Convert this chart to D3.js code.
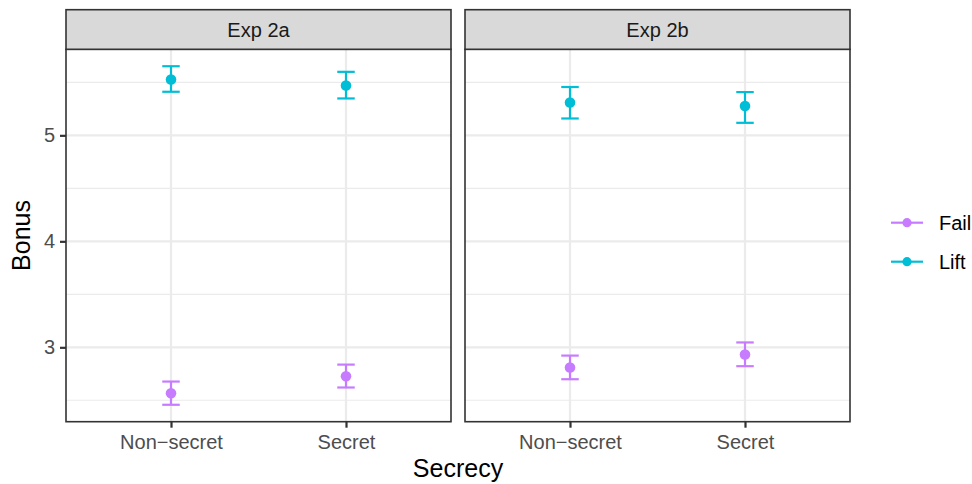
<!DOCTYPE html>
<html>
<head>
  <meta charset="utf-8">
  <title>Bonus by secrecy</title>
  <script src="https://cdn.jsdelivr.net/npm/d3@7"></script>
  <style>
    body { margin: 0; background: #fff; }
    svg text { font-family: "Liberation Sans", Arial, Helvetica, sans-serif; }
  </style>
</head>
<body>
  <svg id="chart" width="972" height="484"></svg>

  <script>
    // facets, x categories, series
    var experiments = ['Exp 2a', 'Exp 2b'];
    var secrecy = ['Non\u2212secret', 'Secret'];
    var outcomes = ['Fail', 'Lift'];
    var colors = ['#C77CFF', '#00BED6'];

    // values per cell: Exp 2a Non-secret, Exp 2a Secret, Exp 2b Non-secret, Exp 2b Secret
    var failMean = [2.567, 2.727, 2.810, 2.932];
    var failLow  = [2.458, 2.621, 2.699, 2.822];
    var failHigh = [2.677, 2.837, 2.922, 3.046];

    var liftMean = [5.527, 5.470, 5.310, 5.276];
    var liftLow  = [5.411, 5.348, 5.159, 5.118];
    var liftHigh = [5.652, 5.599, 5.456, 5.408];

    var yTicks = [3, 4, 5];
    var yMinor = [2.5, 3.5, 4.5, 5.5];

    var series = [
      { name: 'Fail', mean: failMean, low: failLow, high: failHigh },
      { name: 'Lift', mean: liftMean, low: liftLow, high: liftHigh }
    ];

    var svg = d3.select('#chart');

    var panelTop = 49.3, panelBottom = 421.7, stripTop = 9.7,
      panelW = 385, panelX = [66, 465];

    // ggplot style 5% expansion on the data range
    var lo = d3.min(series, s => d3.min(s.low)),
      hi = d3.max(series, s => d3.max(s.high)),
      pad = (hi - lo) * 0.05;

    var y = d3.scaleLinear()
      .domain([lo - pad, hi + pad])
      .range([panelBottom, panelTop]);

    var x = d3.scalePoint()
      .domain(secrecy)
      .range([0, panelW])
      .padding(0.6);

    var color = d3.scaleOrdinal(outcomes, colors);
    var capHalf = x.step() * 0.05;

    experiments.forEach((exp, ei) => {
      var g = svg.append('g')
        .attr('transform', 'translate(' + panelX[ei] + ',0)');

      // minor grid
      g.selectAll('.minor')
        .data(yMinor)
        .enter().append('line')
        .attr('x1', 0).attr('x2', panelW)
        .attr('y1', d => y(d)).attr('y2', d => y(d))
        .attr('stroke', '#EBEBEB').attr('stroke-width', 1.1);

      // major grid
      g.selectAll('.majorY')
        .data(yTicks)
        .enter().append('line')
        .attr('x1', 0).attr('x2', panelW)
        .attr('y1', d => y(d)).attr('y2', d => y(d))
        .attr('stroke', '#EBEBEB').attr('stroke-width', 2.2);

      g.selectAll('.majorX')
        .data(secrecy)
        .enter().append('line')
        .attr('x1', d => x(d)).attr('x2', d => x(d))
        .attr('y1', panelTop).attr('y2', panelBottom)
        .attr('stroke', '#EBEBEB').attr('stroke-width', 2.2);

      // error bars + points
      series.forEach(s => {
        secrecy.forEach((c, ci) => {
          var i = ei * 2 + ci, cx = x(c), col = color(s.name);
          var eb = g.append('g').attr('stroke', col).attr('stroke-width', 2.2);
          eb.append('line')
            .attr('x1', cx).attr('x2', cx)
            .attr('y1', y(s.low[i])).attr('y2', y(s.high[i]));
          eb.append('line')
            .attr('x1', cx - capHalf).attr('x2', cx + capHalf)
            .attr('y1', y(s.low[i])).attr('y2', y(s.low[i]));
          eb.append('line')
            .attr('x1', cx - capHalf).attr('x2', cx + capHalf)
            .attr('y1', y(s.high[i])).attr('y2', y(s.high[i]));
          g.append('circle')
            .attr('cx', cx).attr('cy', y(s.mean[i]))
            .attr('r', 5.3).attr('fill', col);
        });
      });

      // panel border
      g.append('rect')
        .attr('x', 0).attr('y', panelTop)
        .attr('width', panelW).attr('height', panelBottom - panelTop)
        .attr('fill', 'none').attr('stroke', '#333333').attr('stroke-width', 1.6);

      // strip
      g.append('rect')
        .attr('x', 0).attr('y', stripTop)
        .attr('width', panelW).attr('height', panelTop - stripTop)
        .attr('fill', '#D9D9D9').attr('stroke', '#333333').attr('stroke-width', 1.6);
      g.append('text')
        .attr('x', panelW / 2).attr('y', 37.3)
        .attr('text-anchor', 'middle')
        .attr('font-size', 20).attr('fill', '#1A1A1A')
        .text(exp);

      // x axis
      var xa = g.append('g')
        .attr('transform', 'translate(0,' + panelBottom + ')')
        .call(d3.axisBottom(x).tickSize(6).tickPadding(7));
      xa.select('.domain').remove();
      xa.selectAll('.tick line').attr('stroke', '#333333').attr('stroke-width', 2.2);
      xa.selectAll('.tick text')
        .attr('font-size', 20).attr('fill', '#4D4D4D')
        .attr('font-family', '"Liberation Sans", Arial, Helvetica, sans-serif');
    });

    // y axis (left panel only)
    var ya = svg.append('g')
      .attr('transform', 'translate(' + panelX[0] + ',0)')
      .call(d3.axisLeft(y).tickValues(yTicks).tickSize(6).tickPadding(5).tickFormat(d3.format('d')));
    ya.select('.domain').remove();
    ya.selectAll('.tick line').attr('stroke', '#333333').attr('stroke-width', 2.2);
    ya.selectAll('.tick text')
      .attr('font-size', 20).attr('fill', '#4D4D4D')
      .attr('font-family', '"Liberation Sans", Arial, Helvetica, sans-serif');

    // axis titles
    svg.append('text')
      .attr('x', (panelX[0] + panelX[1] + panelW) / 2).attr('y', 477)
      .attr('text-anchor', 'middle').attr('font-size', 25).attr('fill', '#000')
      .text('Secrecy');

    svg.append('text')
      .attr('transform', 'translate(29.5,' + (panelTop + panelBottom) / 2 + ') rotate(-90)')
      .attr('text-anchor', 'middle').attr('font-size', 25).attr('fill', '#000')
      .text('Bonus');

    // legend
    var legend = svg.append('g').attr('transform', 'translate(907,222.7)');
    var key = legend.selectAll('.key')
      .data(outcomes)
      .enter().append('g')
      .attr('transform', (d, i) => 'translate(0,' + i * 39 + ')');
    key.append('line')
      .attr('x1', -16).attr('x2', 16)
      .attr('stroke', d => color(d)).attr('stroke-width', 2.2);
    key.append('circle')
      .attr('r', 4.6).attr('fill', d => color(d));
    key.append('text')
      .attr('x', 32).attr('y', 7)
      .attr('font-size', 20).attr('fill', '#000')
      .text(d => d);
  </script>
</body>
</html>
